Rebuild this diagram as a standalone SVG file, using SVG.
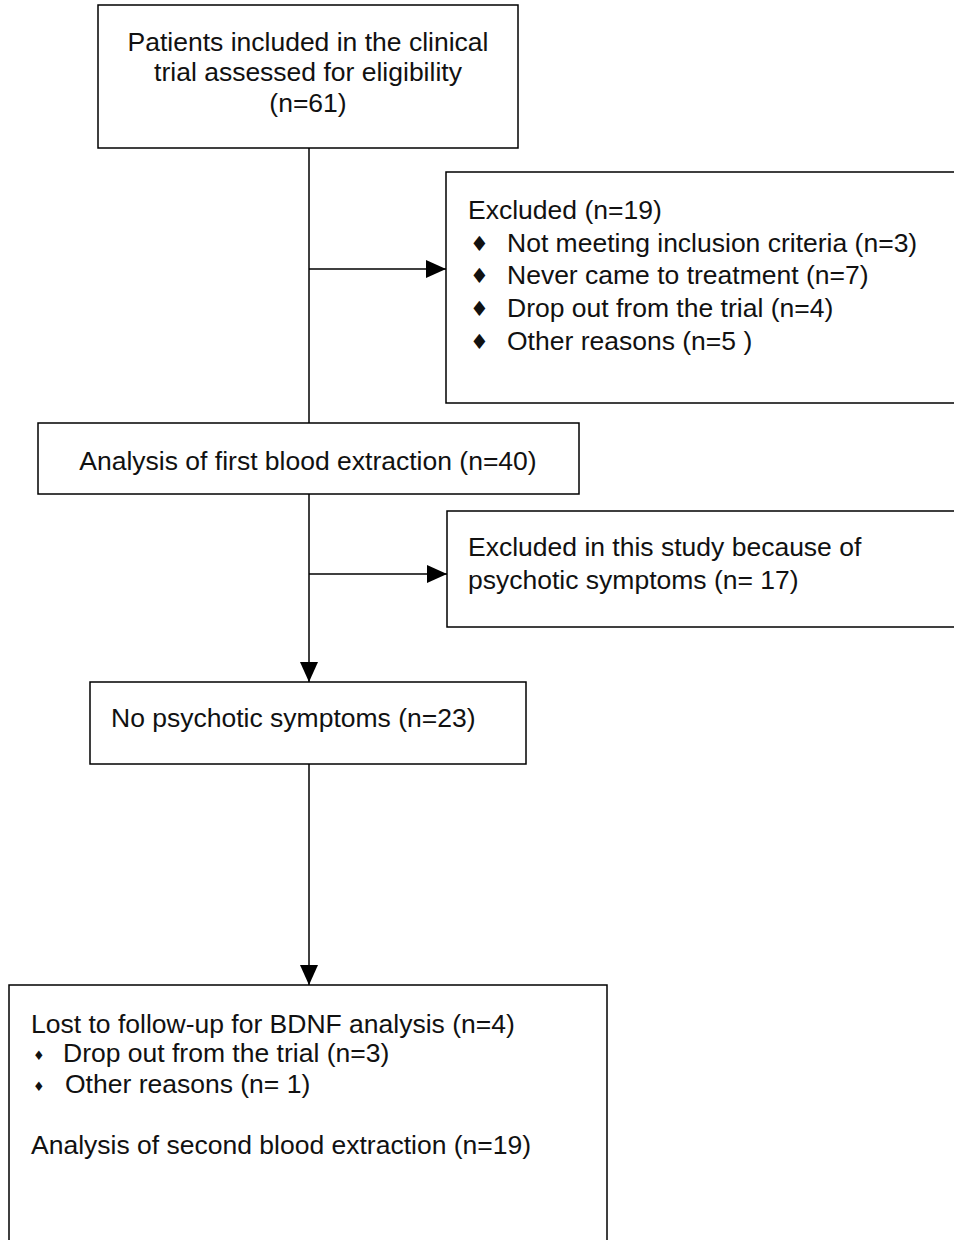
<svg xmlns="http://www.w3.org/2000/svg" width="954" height="1240" viewBox="0 0 954 1240">
<style>
.box{fill:#fff;stroke:#000;stroke-width:1.5}
.t{font-family:"Liberation Sans",Arial,sans-serif;font-size:26.5px;fill:#111}
.c{text-anchor:middle}
.ln{stroke:#000;stroke-width:1.5;fill:none}
.b{font-family:"DejaVu Sans",sans-serif;font-size:21px;fill:#111}
.bs{font-family:"DejaVu Sans",sans-serif;font-size:13px;fill:#111}
</style>
<defs>
<marker id="ah" viewBox="0 0 20 18" refX="20" refY="9" markerWidth="20" markerHeight="18" markerUnits="userSpaceOnUse" orient="auto">
<path d="M0,0 L20,9 L0,18 Z" fill="#000"/>
</marker>
</defs>
<rect width="954" height="1240" fill="#fff"/>
<g id="connectors">
<line class="ln" x1="309" y1="148" x2="309" y2="423"/>
<line class="ln" x1="309" y1="269" x2="446" y2="269" marker-end="url(#ah)"/>
<line class="ln" x1="309" y1="494" x2="309" y2="682" marker-end="url(#ah)"/>
<line class="ln" x1="309" y1="574" x2="447" y2="574" marker-end="url(#ah)"/>
<line class="ln" x1="309" y1="764" x2="309" y2="985" marker-end="url(#ah)"/>
</g>
<g id="n1">
<rect class="box" x="98" y="5" width="420" height="143"/>
<text class="t c" x="308" y="51">Patients included in the clinical</text>
<text class="t c" x="308" y="81">trial assessed for eligibility</text>
<text class="t c" x="308" y="112">(n=61)</text>
</g>
<g id="n2">
<rect class="box" x="446" y="172" width="520" height="231"/>
<text class="t" x="468" y="219">Excluded (n=19)</text>
<text class="b" x="470" y="251">♦</text><text class="t" x="507" y="252">Not meeting inclusion criteria (n=3)</text>
<text class="b" x="470" y="283">♦</text><text class="t" x="507" y="284">Never came to treatment (n=7)</text>
<text class="b" x="470" y="316">♦</text><text class="t" x="507" y="317">Drop out from the trial (n=4)</text>
<text class="b" x="470" y="349">♦</text><text class="t" x="507" y="350">Other reasons (n=5 )</text>
</g>
<g id="n3">
<rect class="box" x="38" y="423" width="541" height="71"/>
<text class="t c" x="308" y="470">Analysis of first blood extraction (n=40)</text>
</g>
<g id="n4">
<rect class="box" x="447" y="511" width="520" height="116"/>
<text class="t" x="468" y="556">Excluded in this study because of</text>
<text class="t" x="468" y="589">psychotic symptoms (n= 17)</text>
</g>
<g id="n5">
<rect class="box" x="90" y="682" width="436" height="82"/>
<text class="t" x="111" y="727">No psychotic symptoms (n=23)</text>
</g>
<g id="n6">
<rect class="box" x="9" y="985" width="598" height="270"/>
<text class="t" x="31" y="1033">Lost to follow-up for BDNF analysis (n=4)</text>
<text class="bs" x="33" y="1060">♦</text><text class="t" x="63" y="1062">Drop out from the trial (n=3)</text>
<text class="bs" x="33" y="1091">♦</text><text class="t" x="65" y="1093">Other reasons (n= 1)</text>
<text class="t" x="31" y="1154">Analysis of second blood extraction (n=19)</text>
</g>
</svg>
